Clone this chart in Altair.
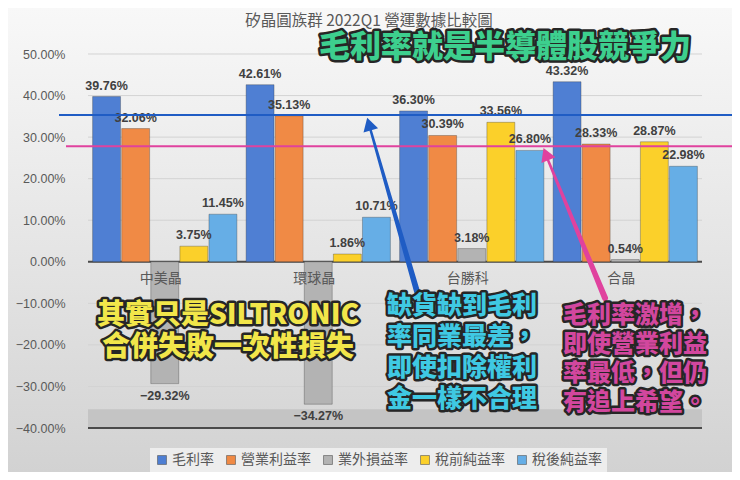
import altair as alt
import pandas as pd

# ---------------- data ----------------
chart_title = "矽晶圓族群 2022Q1 營運數據比較圖"
companies = ["中美晶", "環球晶", "台勝科", "合晶"]
series = ["毛利率", "營業利益率", "業外損益率", "稅前純益率", "稅後純益率"]
gross_margin = [39.76, 42.61, 36.30, 43.32]
operating_margin = [32.06, 35.13, 30.39, 28.33]
non_operating = [-29.32, -34.27, 3.18, 0.54]
pretax_margin = [3.75, 1.86, 33.56, 28.87]
net_margin = [11.45, 10.71, 26.80, 22.98]
y_ticks = [-40, -30, -20, -10, 0, 10, 20, 30, 40, 50]

headline = "毛利率就是半導體股競爭力"
note_yellow = ["其實只是SILTRONIC", "合併失敗一次性損失"]
note_cyan = ["缺貨缺到毛利", "率同業最差，", "即使扣除權利", "金一樣不合理"]
note_pink = ["毛利率激增，", "即使營業利益", "率最低，但仍", "有追上希望。"]
blue_ref = 35.3
pink_ref = 27.8

series_colors = ["#4f7fd3", "#f08a45", "#b3b3b3", "#fbd02a", "#66aee6"]

rows = []
for s, vals in zip(series, [gross_margin, operating_margin, non_operating, pretax_margin, net_margin]):
    for c, v in zip(companies, vals):
        rows.append({"company": c, "series": s, "value": v})
df = pd.DataFrame(rows)
grid_df = pd.DataFrame({"value": y_ticks})
cat_df = pd.DataFrame({"company": companies})
one = pd.DataFrame({"k": [0]})

W, H = 614, 374
FONT_NUM = "Liberation Sans, Noto Sans CJK TC, sans-serif"
FONT_CJK = "Noto Sans CJK TC, Noto Sans CJK SC, sans-serif"

x_enc = alt.X("company:N", sort=companies, axis=None,
              scale=alt.Scale(domain=companies, paddingInner=0.06, paddingOuter=0.03))
xo_enc = alt.XOffset("series:N", sort=series,
                     scale=alt.Scale(domain=series, paddingInner=0.04))
y_scale = alt.Scale(domain=[-40, 50], nice=False, zero=False)
y_plain = alt.Y("value:Q", scale=y_scale, title=None)

# background gradient
bg = alt.Chart(one).mark_rect(
    color=alt.Gradient(gradient="linear",
                       stops=[alt.GradientStop(color="#f8f8f8", offset=0),
                              alt.GradientStop(color="#e2e2e2", offset=0.6),
                              alt.GradientStop(color="#d2d2d2", offset=1)],
                       x1=0, x2=0, y1=0, y2=1)
).encode(x=alt.value(-80), x2=alt.value(W + 30), y=alt.value(-46), y2=alt.value(H + 44))

grid = alt.Chart(grid_df).mark_rule(color="#d3d3d3", strokeWidth=1).encode(
    y=alt.Y("value:Q", scale=y_scale,
            axis=alt.Axis(values=y_ticks, labelExpr="format(datum.value, '.2f') + '%'",
                          title=None, grid=False, domain=False, ticks=False,
                          labelColor="#595959", labelFontSize=12.5, labelFont=FONT_NUM,
                          labelPadding=23, zindex=1))
)

floor = alt.Chart(one).mark_rect(color="#c4c4c4").encode(y=alt.datum(-40), y2=alt.datum(-35.5))
zero_rule = alt.Chart(one).mark_rule(color="#4a4a4a", strokeWidth=2).encode(y=alt.datum(0))
bottom_rule = alt.Chart(one).mark_rule(color="#4a4a4a", strokeWidth=2).encode(y=alt.datum(-40))

color_enc = alt.Color(
    "series:N", sort=series,
    scale=alt.Scale(domain=series, range=series_colors),
    legend=alt.Legend(title=None, orient="none", legendX=62, legendY=394,
                      direction="horizontal", fillColor="#ededed", padding=5,
                      labelFont=FONT_CJK, labelFontSize=14, labelColor="#595959",
                      symbolType="square", symbolSize=80, columnPadding=10,
                      labelOffset=3, symbolStrokeWidth=0.6, symbolStrokeColor="#555555"))

base = alt.Chart(df).encode(x=x_enc, xOffset=xo_enc, y=y_plain)
bars = base.mark_bar(stroke="#333333", strokeWidth=0.6, strokeOpacity=0.55).encode(color=color_enc)

lab_kw = dict(font=FONT_NUM, fontSize=12.5, fontWeight="bold", color="#404040", baseline="middle")
labels_pos = base.transform_filter("datum.value >= 0").transform_calculate(
    label="format(datum.value, '.2f') + '%'").mark_text(dy=-11, **lab_kw).encode(text="label:N")
labels_neg = base.transform_filter("datum.value < 0").transform_calculate(
    label="format(datum.value, '.2f') + '%'").mark_text(dy=12, **lab_kw).encode(text="label:N")

cat_labels = alt.Chart(cat_df).mark_text(
    font=FONT_CJK, fontSize=14, color="#595959", baseline="middle", dy=17, dx=-4
).encode(x=x_enc, y=alt.datum(0), text="company:N")

title_mark = alt.Chart(one).mark_text(
    text=chart_title, font=FONT_CJK, fontSize=15.5, color="#595959", baseline="middle"
).encode(x=alt.value(281), y=alt.value(-33))

blue_line = alt.Chart(one).mark_rule(color="#1f5cc4", strokeWidth=2).encode(
    y=alt.datum(blue_ref), x=alt.value(-29), x2=alt.value(644))
pink_line = alt.Chart(one).mark_rule(color="#e0429e", strokeWidth=2).encode(
    y=alt.datum(pink_ref), x=alt.value(-22), x2=alt.value(652))

# arrows (annotation geometry, in pixels)
blue_arrow = pd.DataFrame({"px": [330, 282], "py": [241, 74], "w": [6, 2.5]})
pink_arrow = pd.DataFrame({"px": [517, 460], "py": [244, 106], "w": [6, 2.5]})


def arrow(d, col, hx, hy, ang):
    shaft = alt.Chart(d).mark_trail(color=col).encode(
        x=alt.X("px:Q", scale=None), y=alt.Y("py:Q", scale=None),
        size=alt.Size("w:Q", scale=None, legend=None))
    head = alt.Chart(one).mark_point(shape="triangle-up", filled=True, size=230, angle=ang,
                                     color=col, opacity=1).encode(x=alt.value(hx), y=alt.value(hy))
    return shaft + head


def outlined(lines, cx, cy, size, fill, lh, outline="#262626", sw=5):
    # cy is the centre of the first line
    kw = dict(text=lines, font=FONT_CJK, fontSize=size, fontWeight=900, align="center",
              baseline="middle", lineHeight=lh)
    back = alt.Chart(one).mark_text(fill=outline, stroke=outline, strokeWidth=sw,
                                    strokeJoin="round", **kw).encode(x=alt.value(cx), y=alt.value(cy))
    front = alt.Chart(one).mark_text(fill=fill, **kw).encode(x=alt.value(cx), y=alt.value(cy))
    return back + front


chart = alt.layer(
    bg, grid, floor, zero_rule, bottom_rule, bars, labels_pos, labels_neg, cat_labels,
    title_mark, blue_line, pink_line,
    arrow(blue_arrow, "#1f5cc4", 281, 70, 344),
    arrow(pink_arrow, "#e0429e", 458, 100, 338),
    outlined(headline, 417, -6, 31, "#3dcf8e", 34),
    outlined(note_yellow, 140, 262, 28, "#f2e64a", 32),
    outlined(note_cyan, 374, 252, 25, "#3fc9e3", 31),
    outlined(note_pink, 547, 262, 24, "#d2479e", 29),
).properties(
    width=W, height=H,
    padding={"left": 80, "top": 46, "right": 30, "bottom": 44},
    autosize=alt.AutoSizeParams(type="none"),
).configure(background="#dedede").configure_view(stroke=None)

chart.save("out.html", embed_options={"renderer": "svg", "actions": False})
